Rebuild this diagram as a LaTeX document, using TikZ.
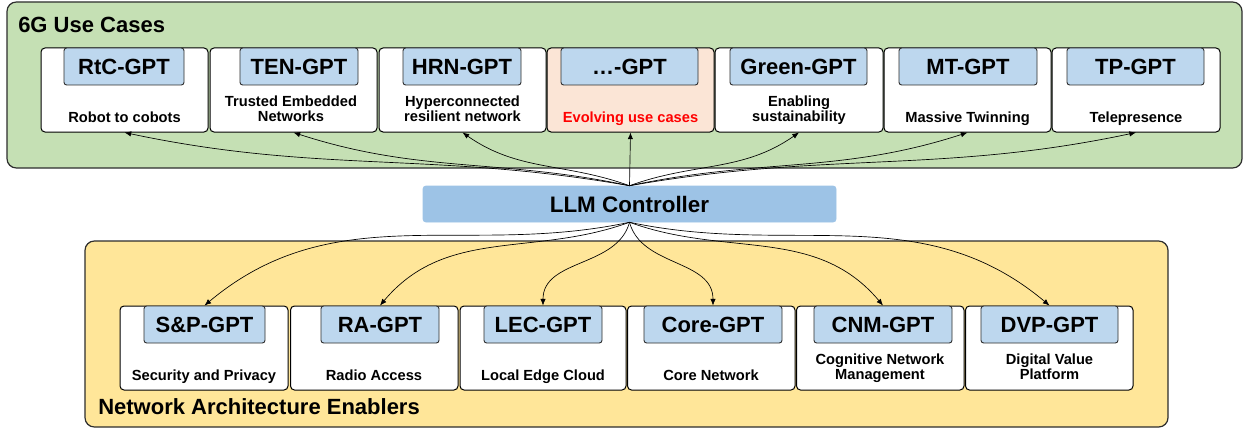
\documentclass[tikz,border=0pt]{standalone}
\usepackage{fontspec}
\setmainfont{Liberation Sans}
\usetikzlibrary{fit,arrows.meta}
\definecolor{gfill}{RGB}{197,224,180}
\definecolor{yfill}{RGB}{255,230,153}
\definecolor{bfill}{RGB}{189,215,238}
\definecolor{lfill}{RGB}{157,195,230}
\definecolor{pfill}{RGB}{251,229,214}
\definecolor{edge}{RGB}{45,45,45}
\definecolor{redtxt}{RGB}{255,0,0}
\begin{document}
\begin{tikzpicture}[x=0.75pt,y=-0.75pt,
  outer/.style={draw=edge, line width=0.9pt, rounded corners=7pt, inner sep=0pt},
  card/.style={draw=black, fill=white, line width=0.75pt, rounded corners=3pt, inner sep=0pt},
  tag/.style={draw=edge, fill=bfill, line width=0.7pt, rounded corners=2pt, inner sep=0pt,
    minimum height=27.75pt, font=\fontsize{16.5}{18}\selectfont\bfseries},
  desc/.style={font=\fontsize{11}{11.5}\selectfont\bfseries, align=center, anchor=base, inner sep=0pt},
  title/.style={font=\fontsize{16.5}{18}\selectfont\bfseries, anchor=base west, inner sep=0pt},
  arr/.style={-{Latex[length=5pt,width=4pt]}, line width=0.5pt, black}
]
\useasboundingbox (0,0) rectangle (1245,428);

% groups
\node[outer, fill=gfill, fit={(7,2) (1242,168)}] (uc) {};
\node[outer, fill=yfill, fit={(85,241) (1168,427)}] (nae) {};
\node[title] (uctitle) at (18,33) {6G Use Cases};
\node[title] (naetitle) at (98,414) {Network Architecture Enablers};

% top cards
\node[card, fit={(41,48) (208,132)}] (c1) {};
\node[card, fit={(210,48) (377,132)}] (c2) {};
\node[card, fit={(379,48) (546,132)}] (c3) {};
\node[card, fill=pfill, fit={(547,48) (714,132)}] (c4) {};
\node[card, fit={(715,48) (883,132)}] (c5) {};
\node[card, fit={(884,48) (1051,132)}] (c6) {};
\node[card, fit={(1052,48) (1220,132)}] (c7) {};

\node[tag, minimum width=90pt] (t1) at (124,66.5) {RtC-GPT};
\node[tag, minimum width=88.5pt] (t2) at (299,66.5) {TEN-GPT};
\node[tag, minimum width=88.5pt] (t3) at (462,66.5) {HRN-GPT};
\node[tag, minimum width=102.75pt] (t4) at (629.5,66.5) {…-GPT};
\node[tag, minimum width=102.75pt] (t5) at (798.5,66.5) {Green-GPT};
\node[tag, minimum width=103.5pt] (t6) at (968,66.5) {MT-GPT};
\node[tag, minimum width=102.75pt] (t7) at (1135.5,66.5) {TP-GPT};

\node[desc] (d1) at (124.5,122.5) {Robot to cobots};
\node[desc] (d2) at (291,122) {Trusted Embedded\\Networks};
\node[desc] (d3) at (462.5,122) {Hyperconnected\\resilient network};
\node[desc, text=redtxt] (d4) at (630.5,122.5) {Evolving use cases};
\node[desc] (d5) at (799,122) {Enabling\\sustainability};
\node[desc] (d6) at (967.5,122.5) {Massive Twinning};
\node[desc] (d7) at (1136,122.5) {Telepresence};

% controller
\node[draw=lfill, fill=lfill, rounded corners=2pt, inner sep=0pt,
  minimum width=309.75pt, minimum height=27pt,
  font=\fontsize{16.8}{18}\selectfont\bfseries] (llm) at (629.5,204) {LLM Controller};

% bottom cards
\node[card, fit={(120,306) (288,390)}] (b1) {};
\node[card, fit={(290.5,306) (458,390)}] (b2) {};
\node[card, fit={(460,306) (626,390)}] (b3) {};
\node[card, fit={(627.5,306) (795,390)}] (b4) {};
\node[card, fit={(796.5,306) (964,390)}] (b5) {};
\node[card, fit={(965.5,306) (1133,390)}] (b6) {};

\node[tag, minimum width=90.75pt] (s1) at (204.5,324.5) {S\&P-GPT};
\node[tag, minimum width=88.5pt] (s2) at (380,324.5) {RA-GPT};
\node[tag, minimum width=88.5pt] (s3) at (543,324.5) {LEC-GPT};
\node[tag, minimum width=103.5pt] (s4) at (713,324.5) {Core-GPT};
\node[tag, minimum width=103.5pt] (s5) at (883,324.5) {CNM-GPT};
\node[tag, minimum width=102.75pt] (s6) at (1049.5,324.5) {DVP-GPT};

\node[desc] (e1) at (204,380) {Security and Privacy};
\node[desc] (e2) at (374,380) {Radio Access};
\node[desc] (e3) at (543,380) {Local Edge Cloud};
\node[desc] (e4) at (711,380) {Core Network};
\node[desc] (e5) at (880,379.5) {Cognitive Network\\Management};
\node[desc] (e6) at (1049.5,379.5) {Digital Value\\Platform};

% connectors to use cases
\draw[arr] (llm.north) to[out=170,in=-12] (c1.south);
\draw[arr] (llm.north) to[out=168,in=-18] (c2.south);
\draw[arr] (llm.north) to[out=160,in=-35] (c3.south);
\draw[arr] (llm.north) -- (c4.south);
\draw[arr] (llm.north) to[out=20,in=-145] (c5.south);
\draw[arr] (llm.north) to[out=12,in=-162] (c6.south);
\draw[arr] (llm.north) to[out=10,in=-168] (c7.south);

% connectors to enablers
\draw[arr] (llm.south) to[out=-168,in=40] (s1.north);
\draw[arr] (llm.south) to[out=-160,in=50] (s2.north);
\draw[arr] (llm.south) to[out=-105,in=90] (s3.north);
\draw[arr] (llm.south) to[out=-75,in=90] (s4.north);
\draw[arr] (llm.south) to[out=-20,in=130] (s5.north);
\draw[arr] (llm.south) to[out=-12,in=140] (s6.north);
\end{tikzpicture}
\end{document}
